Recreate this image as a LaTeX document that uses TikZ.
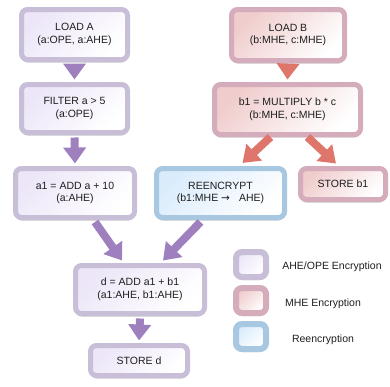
\documentclass[tikz,border=0pt]{standalone}
\usepackage{fontspec}
\setmainfont{Liberation Sans}
\newfontfamily\symfont{DejaVu Sans}
\usetikzlibrary{arrows.meta,shadows,calc}
\definecolor{pborder}{RGB}{200,190,216}
\definecolor{pfill}{RGB}{236,230,248}
\definecolor{mborder}{RGB}{212,172,188}
\definecolor{mfill}{RGB}{240,204,204}
\definecolor{bborder}{RGB}{168,200,226}
\definecolor{bfill}{RGB}{218,236,252}
\definecolor{parrow}{RGB}{158,128,190}
\definecolor{marrow}{RGB}{222,118,108}
\definecolor{txt}{RGB}{30,30,30}
\tikzset{
  basebox/.style={rounded corners=6pt, line width=5pt, align=center, text=txt,
    font=\fontsize{10.5}{12.5}\selectfont, inner sep=0pt,
    drop shadow={shadow xshift=0pt, shadow yshift=-3pt, opacity=0.3, fill=black!70}},
  pbox/.style={basebox, draw=pborder, shading=axis, left color=pfill, right color=white, shading angle=45},
  mbox/.style={basebox, draw=mborder, shading=axis, left color=mfill, right color=white, shading angle=45},
  bbox/.style={basebox, draw=bborder, shading=axis, left color=bfill, right color=white, shading angle=45},
  legbox/.style={line width=6pt, minimum width=30pt, minimum height=25pt},
  legtext/.style={text=txt, font=\fontsize{10.5}{12.5}\selectfont, inner sep=0pt},
  parr/.style={draw=parrow, line width=8pt, -{Triangle[length=16pt,width=22pt]}},
  marr/.style={draw=marrow, line width=8pt, -{Triangle[length=16pt,width=22pt]}}
}
\begin{document}
\begin{tikzpicture}[x=1pt,y=-1pt]
\useasboundingbox (0,0) rectangle (390,386);
% arrows first (behind boxes)
\node[pbox, minimum width=106pt, minimum height=50pt] (loada) at (74.5,34.5) {LOAD A\\(a:OPE, a:AHE)};
\node[pbox, minimum width=106pt, minimum height=48pt] (filter) at (74.5,108.5) {FILTER a > 5\\(a:OPE)};
\node[pbox, minimum width=119pt, minimum height=49pt] (a1) at (75,193) {a1 = ADD a + 10\\(a:AHE)};
\node[bbox, minimum width=128pt, minimum height=49pt] (reenc) at (220.5,193) {REENCRYPT\\(b1:MHE {\symfont→}\hspace{9pt}AHE)};
\node[mbox, minimum width=113pt, minimum height=51pt] (loadb) at (288,35) {LOAD B\\(b:MHE, c:MHE)};
\node[mbox, minimum width=146pt, minimum height=50pt] (mult) at (287.5,109.5) {b1 = MULTIPLY b * c\\(b:MHE, c:MHE)};
\node[mbox, minimum width=85pt, minimum height=31pt] (storeb) at (343,184) {STORE b1};
\node[pbox, minimum width=129pt, minimum height=48pt] (d) at (140,289.5) {d = ADD a1 + b1\\(a1:AHE, b1:AHE)};
\node[pbox, minimum width=97pt, minimum height=30pt] (stored) at (139,360.5) {STORE d};
% legend
\node[pbox, legbox] (leg1) at (251,264.5) {};
\node[mbox, legbox] (leg2) at (251,300.5) {};
\node[bbox, legbox] (leg3) at (251,336.5) {};
\node[legtext] (leg1t) at (332,266.5) {AHE/OPE Encryption};
\node[legtext] (leg2t) at (323,304) {MHE Encryption};
\node[legtext] (leg3t) at (323,340) {Reencryption};
% connectors
\draw[parr] ($(loada.south)+(0,2.5)$) -- ($(filter.north)+(0,-2.5)$);
\draw[parr] ($(filter.south)+(0,2.5)$) -- ($(a1.north)+(0,-2.5)$);
\draw[parr] ($(a1.south)+(20,2)$) -- ($(d.north)+(-18,-2.5)$);
\draw[parr] ($(reenc.south)+(-20,2)$) -- ($(d.north)+(23,-2.5)$);
\draw[parr] ($(d.south)+(0,2.5)$) -- ($(stored.north)+(0,-2.5)$);
\draw[marr] ($(loadb.south)+(0,2.5)$) -- ($(mult.north)+(0,-2.5)$);
\draw[marr] ($(mult.south)+(-17,0)$) -- ($(reenc.north)+(22,-3)$);
\draw[marr] ($(mult.south)+(20,0)$) -- ($(storeb.north)+(-7,-2.5)$);
\end{tikzpicture}
\end{document}
